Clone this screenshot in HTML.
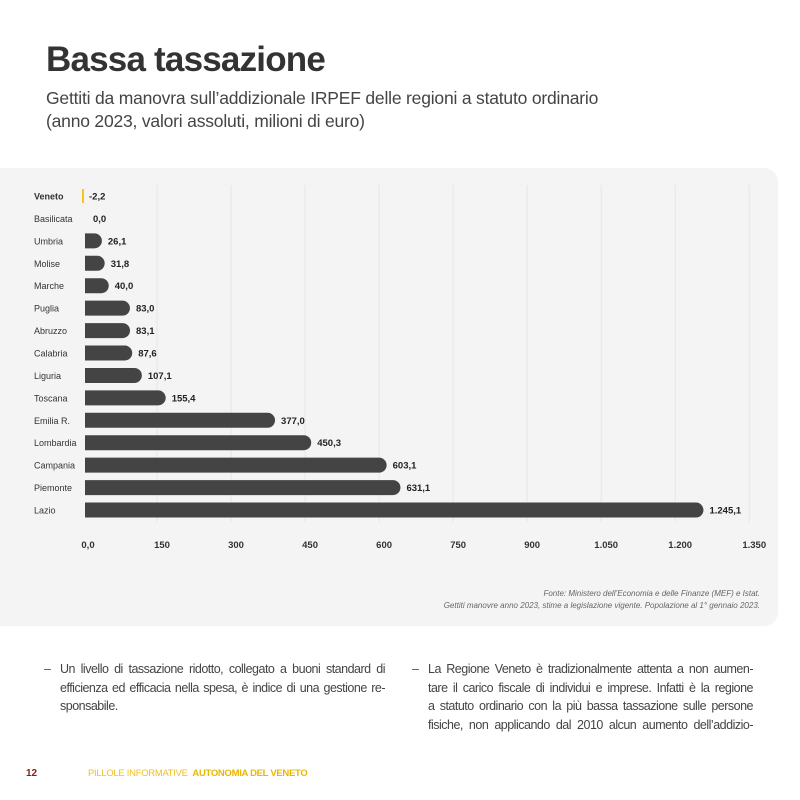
<!DOCTYPE html>
<html><head><meta charset="utf-8"><style>
body{margin:0;width:800px;height:800px;background:#fff;font-family:"Liberation Sans",sans-serif;position:relative;overflow:hidden}
.abs{position:absolute}
h1{position:absolute;left:46px;top:40px;margin:0;font-size:35px;font-weight:bold;color:#333;letter-spacing:-0.8px}
.sub{left:46px;top:87px;font-size:17.5px;color:#444;line-height:23px;letter-spacing:-0.2px}
.panel{left:0;top:168px;width:778px;height:458px;background:#f4f4f4;border-radius:0 14px 14px 0}
.txt{font-size:12.5px;color:#444;line-height:18.5px;letter-spacing:-0.5px}
.txt div{text-align:justify;text-align-last:justify;white-space:nowrap;overflow:hidden}
.txt div.last{text-align-last:left}
</style></head><body>
<h1>Bassa tassazione</h1>
<div class="abs sub">Gettiti da manovra sull’addizionale IRPEF delle regioni a statuto ordinario<br>(anno 2023, valori assoluti, milioni di euro)</div>
<div class="abs panel"></div>
<svg class="abs" style="left:0;top:0" width="800" height="640" id="chart"></svg>
<div class="abs" style="right:40px;top:588px;font-size:8px;font-style:italic;color:#666;text-align:right;line-height:12px">Fonte: Ministero dell’Economia e delle Finanze (MEF) e Istat.<br>Gettiti manovre anno 2023, stime a legislazione vigente. Popolazione al 1° gennaio 2023.</div>
<div class="abs txt" style="left:60px;top:660px;width:325px"><span style="position:absolute;left:-16px;color:#a03030">–</span><div>Un livello di tassazione ridotto, collegato a buoni standard di</div><div>efficienza ed efficacia nella spesa, è indice di una gestione re-</div><div class="last">sponsabile.</div></div>
<div class="abs txt" style="left:428px;top:660px;width:325px"><span style="position:absolute;left:-16px;color:#a03030">–</span><div>La Regione Veneto è tradizionalmente attenta a non aumen-</div><div>tare il carico fiscale di individui e imprese. Infatti è la regione</div><div>a statuto ordinario con la più bassa tassazione sulle persone</div><div>fisiche, non applicando dal 2010 alcun aumento dell’addizio-</div></div>
<div class="abs" style="left:26px;top:768px;font-size:10px;font-weight:bold;color:#8b1a1a">12</div>
<div class="abs" style="left:88px;top:768px;font-size:9.5px;color:#f0c020;letter-spacing:-0.3px">PILLOLE INFORMATIVE &nbsp;<b style="color:#e8b800">AUTONOMIA DEL VENETO</b></div>
<script>
const categories=["Veneto","Basilicata","Umbria","Molise","Marche","Puglia","Abruzzo","Calabria","Liguria","Toscana","Emilia R.","Lombardia","Campania","Piemonte","Lazio"];
const values=[-2.2,0.0,26.1,31.8,40.0,83.0,83.1,87.6,107.1,155.4,377.0,450.3,603.1,631.1,1245.1];
const ticks=[0,150,300,450,600,750,900,1050,1200,1350];
const tickLabels=["0,0","150","300","450","600","750","900","1.050","1.200","1.350"];
const svg=document.getElementById('chart');const NS='http://www.w3.org/2000/svg';
const x=v=>85+v*0.4935;const y=i=>196+i*22.43;
function mk(t,a,txt){const e=document.createElementNS(NS,t);for(const k in a)e.setAttribute(k,a[k]);if(txt!=null)e.textContent=txt;svg.appendChild(e);return e;}
const fmt=v=>{let s=Math.abs(v).toFixed(1).split('.');let n=s[0].replace(/\B(?=(\d{3})+(?!\d))/g,'.');return (v<0?'-':'')+n+','+s[1];};
ticks.forEach((t,i)=>{
 if(i>0){const g=mk('line',{x1:x(t)-2,x2:x(t)-2,y1:185,y2:522,stroke:'#e6e6e6','stroke-width':1});
 }
 const l=mk('text',{x:x(t)+3,y:548,'text-anchor':'middle','font-size':'9.5','font-weight':'bold',fill:'#333'},tickLabels[i]);
 
});
categories.forEach((c,i)=>{
 const cy=y(i);
 const lb=mk('text',{x:34,y:cy+3.5,'font-size':'9','font-weight':i==0?'bold':'normal',fill:'#333'},c);
 
 const v=values[i];let end;const x0=x(0);
 if(v<0){const r=mk('rect',{x:82,y:cy-7,width:2,height:14,fill:'#f5c518'});
  end=x0+4;}
 else if(v>0){const h=15,rr=7.5;const xe=Math.max(x(v)+4,x0+rr);
  const p=mk('path',{d:`M${x0},${cy-h/2}H${xe-rr}A${rr},${rr} 0 0 1 ${xe-rr},${cy+h/2}H${x0}Z`,fill:'#444'});
  end=xe+6;}
 else end=x0+8;
 const vl=mk('text',{x:end,y:cy+3.5,'font-size':'9.5','font-weight':'bold',fill:'#222'},fmt(v));
 
});
</script>
</body></html>
